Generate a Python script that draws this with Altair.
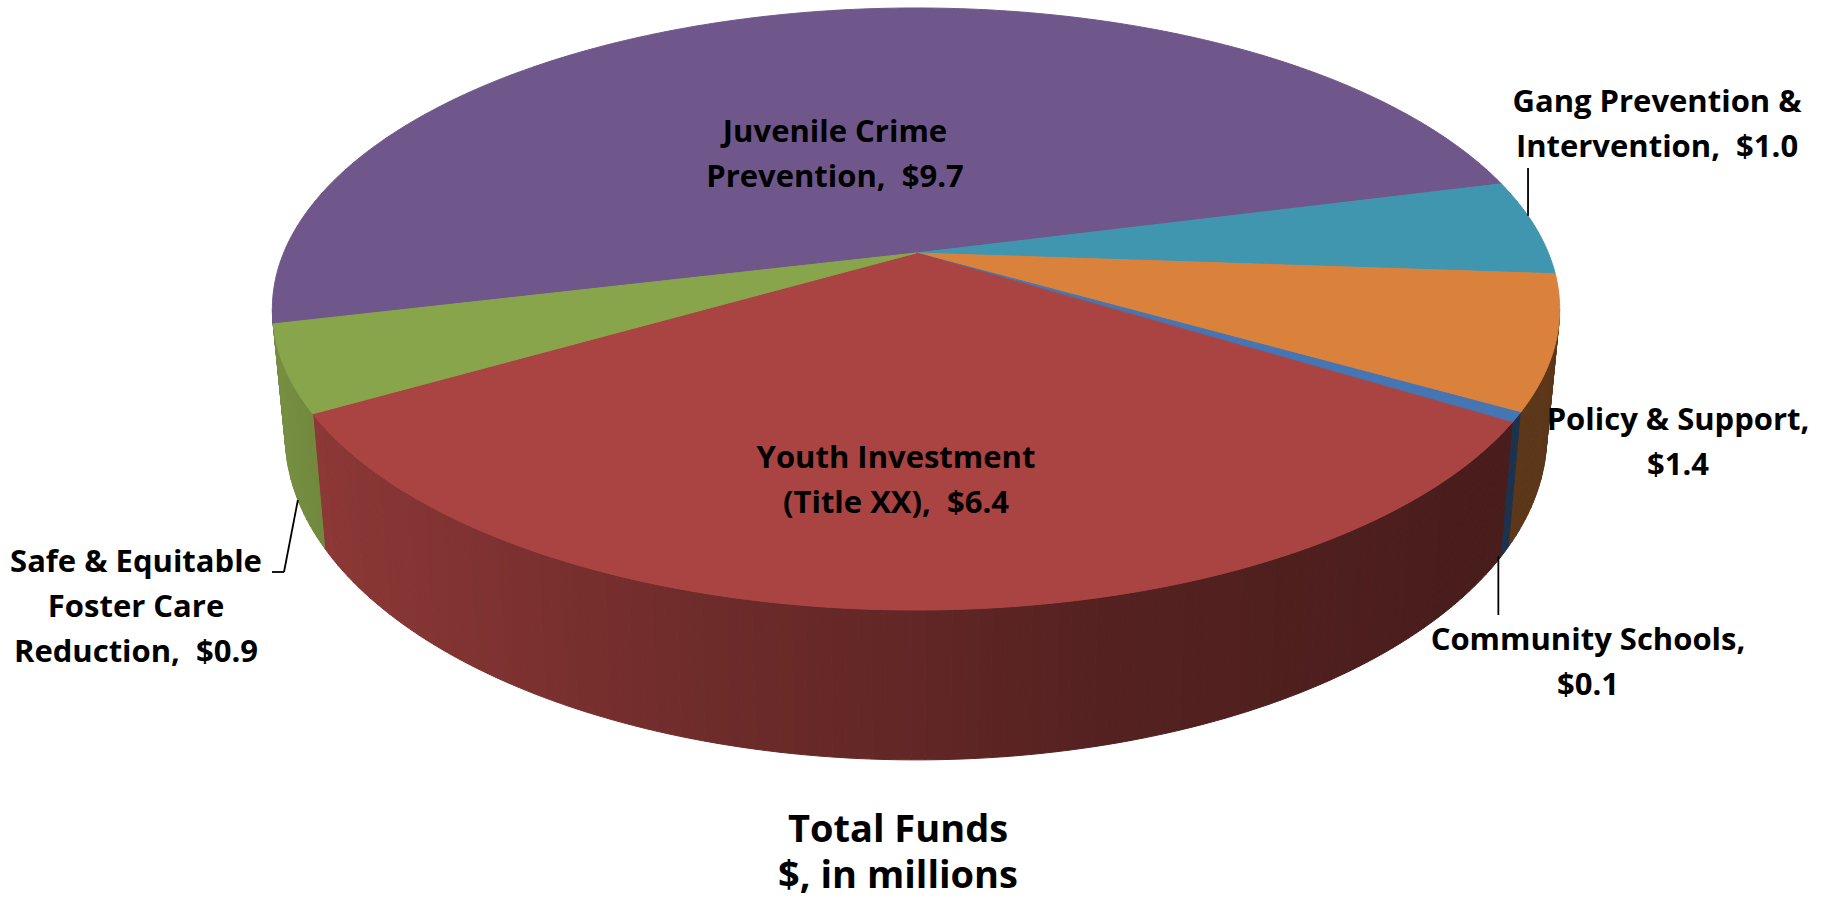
import numpy as np
import pandas as pd
import altair as alt

# ---------------- data ----------------
categories = ["Juvenile Crime Prevention", "Gang Prevention & Intervention", "Policy & Support",
              "Community Schools", "Youth Investment (Title XX)", "Safe & Equitable Foster Care Reduction"]
values = [9.7, 1.0, 1.4, 0.1, 6.4, 0.9]
NB = "\u00a0"
label_templates = ["Juvenile Crime\nPrevention, " + NB + "${v:.1f}",
                   "Gang Prevention &\nIntervention, " + NB + "${v:.1f}",
                   "Policy & Support,\n${v:.1f}",
                   "Community Schools,\n${v:.1f}",
                   "Youth Investment\n(Title XX), " + NB + "${v:.1f}",
                   "Safe & Equitable\nFoster Care\nReduction, " + NB + "${v:.1f}"]
title_lines = ["Total Funds", "$, in millions"]

# ---------------- styles / layout ----------------
slice_colors = ["#6F578B", "#4196AF", "#DA823C", "#4575B3", "#AA4442", "#89A54B"]
label_pos = [(835, 142), (1657, 112), (1678, 430), (1588, 650), (896, 468), (136, 572)]
LINE_H = 45
W, H = 1829, 910
CX, CY = 916.0, 253.0          # pie apex on screen
AX, BY, PERSP = 632.4, 290.6, 0.186
THICK, SHRINK = 122.0, 0.98
START = 256.5                   # first slice angle (clockwise from the far side)
VIS = (100.7, 259.3)            # visible part of the side wall

def top_pt(th):
    t = np.radians(th)
    X, Z = np.sin(t), -np.cos(t)
    w = 1 - PERSP * Z
    return CX + AX * X / w, CY + BY * Z / w

def bot_pt(th):
    x, y = top_pt(th)
    Z = -np.cos(np.radians(th))
    w = 1 - PERSP * Z
    return CX + SHRINK * (x - CX), y + THICK / w

def shade(hexcol, f):
    r, g, b = (int(hexcol[i:i + 2], 16) for i in (1, 3, 5))
    return "#{:02x}{:02x}{:02x}".format(int(r * f), int(g * f), int(b * f))

def wall_factor(x):
    return float(np.interp(x, [270, 330, 700, 900, 1100, 1500, 1560],
                           [0.88, 0.82, 0.65, 0.58, 0.50, 0.43, 0.42]))

total = sum(values)
starts, ends = [], []
acc = 0.0
for v in values:
    starts.append(START + 360 * acc / total)
    acc += v
    ends.append(START + 360 * acc / total)

top_rows, wall_rows = [], []
for k, (a, b) in enumerate(zip(starts, ends)):
    # top face
    n = max(2, int(np.ceil((b - a) / 0.5)) + 1)
    pts = [(CX, CY)] + [top_pt(t) for t in np.linspace(a, b, n)]
    for i, (x, y) in enumerate(pts):
        top_rows.append(dict(poly=f"t{k}", i=i, x=x, y=y, col=slice_colors[k]))
    # side wall (front only)
    for off in (-360, 0, 360):
        lo, hi = max(a + off, VIS[0]), min(b + off, VIS[1])
        if hi <= lo:
            continue
        m = max(1, int(np.ceil((hi - lo) / 1.0)))
        edges = np.linspace(lo, hi, m + 1)
        for j in range(m):
            t0, t1 = edges[j], edges[j + 1]
            quad = [top_pt(t0), top_pt(t1), bot_pt(t1), bot_pt(t0)]
            xm = np.mean([q[0] for q in quad])
            c = shade(slice_colors[k], wall_factor(xm))
            for i, (x, y) in enumerate(quad):
                wall_rows.append(dict(poly=f"w{k}_{off}_{j}", i=i, x=x, y=y, col=c))

top_df = pd.DataFrame(top_rows)
wall_df = pd.DataFrame(wall_rows)

# labels
text_rows = []
for k, (tpl, v) in enumerate(zip(label_templates, values)):
    lines = tpl.format(v=v).split("\n")
    lx, ly = label_pos[k]
    for j, ln in enumerate(lines):
        text_rows.append(dict(x=lx, y=ly + j * LINE_H, text=ln))
text_df = pd.DataFrame(text_rows)
title_df = pd.DataFrame([dict(x=898, y=842, text="\n".join(title_lines))])

# leader lines: from label toward the slice rim
mid = [(a + b) / 2 for a, b in zip(starts, ends)]
GX = 1528
g_th = np.linspace(starts[1], ends[1], 400)
g_pts = [top_pt(t) for t in g_th]
gx, gy = min(g_pts, key=lambda p: abs(p[0] - GX))
cx_, cy_ = bot_pt(mid[3])
sx, sy = bot_pt(mid[5])
rule_df = pd.DataFrame([
    dict(x=gx, y=168, x2=gx, y2=gy),
    dict(x=cx_ - 6, y=cy_ + 4, x2=cx_ - 6, y2=615),
    dict(x=272, y=572, x2=284, y2=572),
    dict(x=284, y=572, x2=sx, y2=sy),
])

xs = alt.Scale(domain=[0, W], nice=False, zero=False)
ys = alt.Scale(domain=[0, H], nice=False, zero=False, reverse=True)

def poly_layer(df):
    return alt.Chart(df).mark_line(filled=True, interpolate="linear-closed", strokeWidth=1).encode(
        x=alt.X("x:Q", scale=xs, axis=None),
        y=alt.Y("y:Q", scale=ys, axis=None),
        detail="poly:N",
        order="i:Q",
        fill=alt.Fill("col:N", scale=None, legend=None),
        stroke=alt.Stroke("col:N", scale=None, legend=None),
    )

walls = poly_layer(wall_df)
tops = poly_layer(top_df)

labels = alt.Chart(text_df).mark_text(font="Open Sans", fontWeight="bold", fontSize=31,
                                      align="center", baseline="alphabetic", color="black").encode(
    x=alt.X("x:Q", scale=xs, axis=None), y=alt.Y("y:Q", scale=ys, axis=None), text="text:N")

title = alt.Chart(title_df).mark_text(font="Open Sans", fontWeight="bold", fontSize=38,
                                      align="center", baseline="alphabetic", color="black",
                                      lineBreak="\n", lineHeight=46).encode(
    x=alt.X("x:Q", scale=xs, axis=None), y=alt.Y("y:Q", scale=ys, axis=None), text="text:N")

rules = alt.Chart(rule_df).mark_rule(color="black", strokeWidth=1.8).encode(
    x=alt.X("x:Q", scale=xs, axis=None), y=alt.Y("y:Q", scale=ys, axis=None),
    x2="x2:Q", y2="y2:Q")

chart = alt.layer(walls, tops, rules, labels, title).properties(
    width=W, height=H, padding=0, autosize=alt.AutoSizeParams(type="none"),
    background="white",
).configure_view(strokeWidth=0)

chart.save("out.html", embed_options={"renderer": "svg", "actions": False})
